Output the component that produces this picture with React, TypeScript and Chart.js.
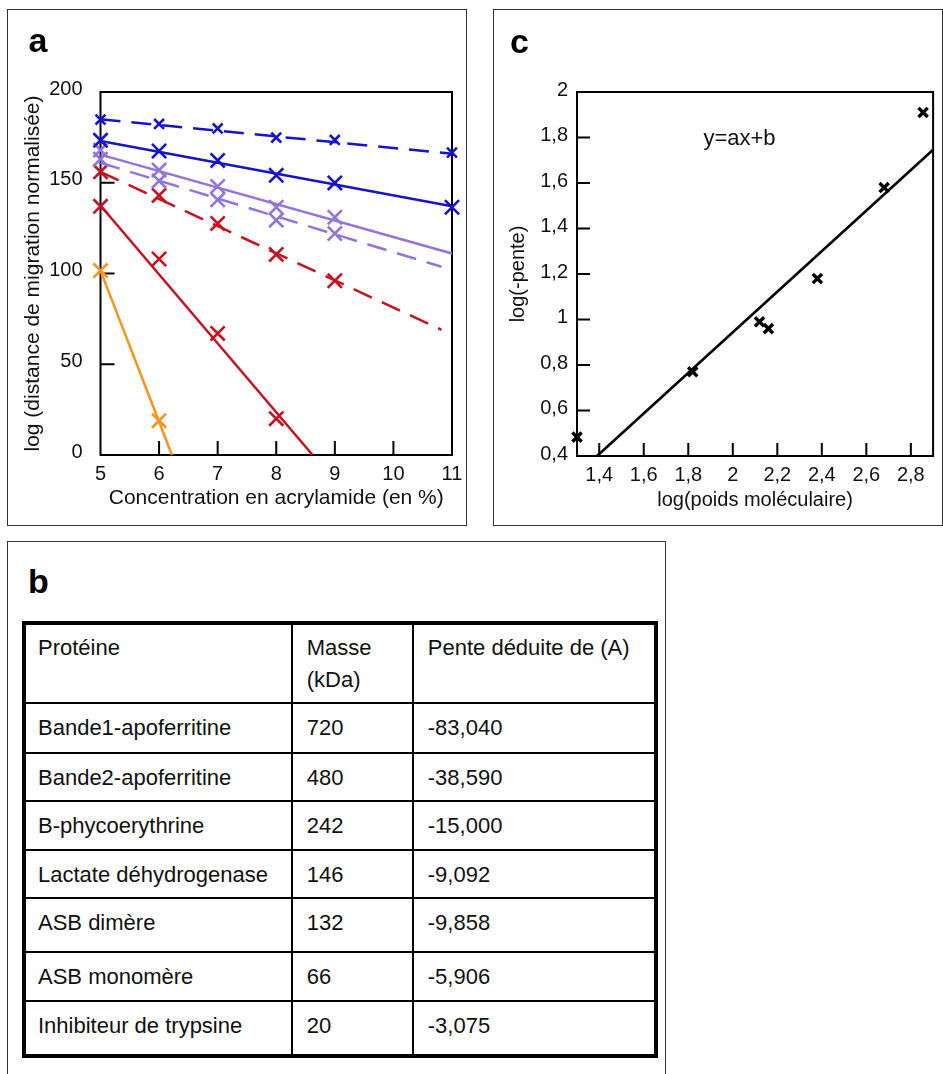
import React, { useEffect, useRef } from "react";
import { Chart, registerables } from "chart.js";

Chart.register(...registerables);

const FONT = '"Liberation Sans", Arial, Helvetica, sans-serif';
const INK = "#111111";
const BLUE = "#1414c8";
const PURPLE = "#9373dc";
const RED = "#c8101e";
const ORANGE = "#f7941e";

// ---------- Panel a : migration vs acrylamide ----------
const acrylamideTicks = [5, 6, 7, 8, 9, 10, 11];
const migrationTicks = [0, 50, 100, 150, 200];
const acrylamideInnerTicks = [6, 7, 8, 9, 10];
const migrationInnerTicks = [50, 100, 150];

const blueDashedX = [5, 6, 7, 8, 9, 11];
const blueDashedY = [184.8, 182.4, 179.9, 174.9, 173.6, 166.6];
const blueDashedFitX = [5, 11];
const blueDashedFitY = [185, 166];

const blueSolidX = [5, 6, 7, 8, 9, 11];
const blueSolidY = [173.4, 167.5, 162.3, 154.1, 149.9, 136.5];
const blueSolidFitX = [5, 11];
const blueSolidFitY = [173, 137];

const purpleSolidX = [5, 6, 7, 8, 9];
const purpleSolidY = [168, 157, 148, 136.5, 131];
const purpleSolidFitX = [5, 11];
const purpleSolidFitY = [165.5, 111];

const purpleDashedX = [5, 6, 7, 8, 9];
const purpleDashedY = [163, 151, 140.6, 129.4, 122];
const purpleDashedFitX = [5, 10.82];
const purpleDashedFitY = [161, 103.7];

const redDashedX = [5, 6, 7, 8, 9];
const redDashedY = [156, 143, 127.6, 110.5, 96];
const redDashedFitX = [5, 10.82];
const redDashedFitY = [156, 69];

const redSolidX = [5, 6, 7, 8];
const redSolidY = [137, 108, 67, 20];
const redSolidFitX = [5, 8.62];
const redSolidFitY = [137.5, 0];

const orangeX = [5, 6];
const orangeY = [101.6, 18.9];
const orangeFitX = [5, 6.22];
const orangeFitY = [101.6, 0];

// ---------- Panel c : log(-pente) vs log(poids moléculaire) ----------
const logMassTicks = [1.4, 1.6, 1.8, 2, 2.2, 2.4, 2.6, 2.8];
const logSlopeTicks = [0.4, 0.6, 0.8, 1, 1.2, 1.4, 1.6, 1.8, 2];
const logSlopeInnerTicks = [0.6, 0.8, 1, 1.2, 1.4, 1.6, 1.8];
const logMass = [1.3, 1.82, 2.12, 2.16, 2.38, 2.68, 2.855];
const logSlope = [0.483, 0.77, 0.99, 0.96, 1.18, 1.58, 1.91];
const fitLineX = [1.39, 2.9];
const fitLineY = [0.4, 1.746];
const equationText = "y=ax+b";
const equationAt = { x: 2.03, y: 1.795 };

// ---------- Panel b : table ----------
const tableHeader = ["Protéine", "Masse\n(kDa)", "Pente déduite de (A)"];
const proteins = [
  "Bande1-apoferritine",
  "Bande2-apoferritine",
  "B-phycoerythrine",
  "Lactate déhydrogenase",
  "ASB dimère",
  "ASB monomère",
  "Inhibiteur de trypsine",
];
const massesKDa = ["720", "480", "242", "146", "132", "66", "20"];
const slopesA = ["-83,040", "-38,590", "-15,000", "-9,092", "-9,858", "-5,906", "-3,075"];

// layout of the table (sizes only)
const tableCols = [266.8, 121, 240.2];
const tableRows = [78.5, 50.5, 48.3, 48.3, 48.2, 53.8, 49.3, 52.1];

const zip = (xs: number[], ys: number[]) => xs.map((x, i) => ({ x, y: ys[i] }));

const frameTicksPlugin = {
  id: "frameTicks",
  beforeDatasetsDraw(chart: any, _args: any, opts: any) {
    const { ctx, chartArea } = chart;
    const { left, right, top, bottom } = chartArea;
    const xs = chart.scales.x;
    const ys = chart.scales.y;
    ctx.save();
    ctx.strokeStyle = "#000";
    ctx.lineWidth = 2;
    ctx.strokeRect(left, top, right - left, bottom - top);
    ctx.beginPath();
    (opts.xTicks || []).forEach((v: number) => {
      const p = xs.getPixelForValue(v);
      ctx.moveTo(p, bottom);
      ctx.lineTo(p, bottom - opts.len);
    });
    (opts.yTicks || []).forEach((v: number) => {
      const p = ys.getPixelForValue(v);
      ctx.moveTo(left, p);
      ctx.lineTo(left + opts.len, p);
    });
    ctx.stroke();
    if (opts.note) {
      ctx.fillStyle = INK;
      ctx.font = `22px ${FONT}`;
      ctx.textAlign = "center";
      ctx.textBaseline = "middle";
      ctx.fillText(opts.note.text, xs.getPixelForValue(opts.note.x), ys.getPixelForValue(opts.note.y));
    }
    ctx.restore();
  },
};

const commaFmt = (v: any) => String(Math.round(Number(v) * 10) / 10).replace(".", ",");

function configA(): any {
  const series = [
    { x: blueDashedX, y: blueDashedY, fx: blueDashedFitX, fy: blueDashedFitY, color: BLUE, dashed: true, r: 7 },
    { x: blueSolidX, y: blueSolidY, fx: blueSolidFitX, fy: blueSolidFitY, color: BLUE, dashed: false, r: 10 },
    { x: purpleSolidX, y: purpleSolidY, fx: purpleSolidFitX, fy: purpleSolidFitY, color: PURPLE, dashed: false, r: 10 },
    { x: purpleDashedX, y: purpleDashedY, fx: purpleDashedFitX, fy: purpleDashedFitY, color: PURPLE, dashed: true, r: 10 },
    { x: redDashedX, y: redDashedY, fx: redDashedFitX, fy: redDashedFitY, color: RED, dashed: true, r: 10 },
    { x: redSolidX, y: redSolidY, fx: redSolidFitX, fy: redSolidFitY, color: RED, dashed: false, r: 10 },
    { x: orangeX, y: orangeY, fx: orangeFitX, fy: orangeFitY, color: ORANGE, dashed: false, r: 10 },
  ];
  const datasets: any[] = [];
  series.forEach((s) => {
    datasets.push({
      data: zip(s.x, s.y),
      showLine: false,
      pointStyle: "crossRot",
      pointRadius: s.r,
      pointHoverRadius: s.r,
      borderWidth: 2.6,
      pointBorderWidth: 2.6,
      borderColor: s.color,
      backgroundColor: s.color,
      clip: false,
      order: 0,
    });
    datasets.push({
      data: zip(s.fx, s.fy),
      showLine: true,
      pointRadius: 0,
      pointHoverRadius: 0,
      borderColor: s.color,
      borderWidth: 2.5,
      borderDash: s.dashed ? [20, 11] : [],
      clip: false,
      order: 1,
    });
  });
  return {
    type: "scatter",
    data: { datasets },
    plugins: [frameTicksPlugin],
    options: {
      animation: false,
      responsive: false,
      events: [],
      layout: { padding: { top: 92, right: 18, bottom: 5, left: 0 } },
      plugins: {
        legend: { display: false },
        tooltip: { enabled: false },
        frameTicks: { xTicks: acrylamideInnerTicks, yTicks: migrationInnerTicks, len: 14 },
      },
      scales: {
        x: {
          type: "linear",
          min: 5,
          max: 11,
          grid: { display: false, drawTicks: false },
          border: { display: false },
          afterBuildTicks: (s: any) => {
            s.ticks = acrylamideTicks.map((v) => ({ value: v }));
          },
          afterFit: (s: any) => {
            s.height = 70;
          },
          ticks: { color: INK, font: { family: FONT, size: 20 }, padding: 7, maxRotation: 0, autoSkip: false },
          title: {
            display: true,
            text: "Concentration en acrylamide (en %)",
            color: INK,
            font: { family: FONT, size: 21 },
            padding: { top: 0, bottom: 14.4 },
          },
        },
        y: {
          type: "linear",
          min: 0,
          max: 200,
          grid: { display: false, drawTicks: false },
          border: { display: false },
          afterBuildTicks: (s: any) => {
            s.ticks = migrationTicks.map((v) => ({ value: v }));
          },
          afterFit: (s: any) => {
            s.width = 100.5;
          },
          ticks: { color: INK, font: { family: FONT, size: 20 }, padding: 18, labelOffset: -3, autoSkip: false },
          title: {
            display: true,
            text: "log (distance de migration normalisée)",
            color: INK,
            font: { family: FONT, size: 21 },
            padding: { top: 20.4, bottom: 0 },
          },
        },
      },
    },
  };
}

function configC(): any {
  return {
    type: "scatter",
    data: {
      datasets: [
        {
          data: zip(logMass, logSlope),
          showLine: false,
          pointStyle: "crossRot",
          pointRadius: 6.5,
          pointHoverRadius: 6.5,
          borderWidth: 3.4,
          pointBorderWidth: 3.4,
          borderColor: "#000",
          backgroundColor: "#000",
          clip: false,
          order: 0,
        },
        {
          data: zip(fitLineX, fitLineY),
          showLine: true,
          pointRadius: 0,
          pointHoverRadius: 0,
          borderColor: "#000",
          borderWidth: 2.6,
          clip: false,
          order: 1,
        },
      ],
    },
    plugins: [frameTicksPlugin],
    options: {
      animation: false,
      responsive: false,
      events: [],
      layout: { padding: { top: 92, right: 7, bottom: 4, left: 0 } },
      plugins: {
        legend: { display: false },
        tooltip: { enabled: false },
        frameTicks: {
          xTicks: logMassTicks,
          yTicks: logSlopeInnerTicks,
          len: 13,
          note: { text: equationText, x: equationAt.x, y: equationAt.y },
        },
      },
      scales: {
        x: {
          type: "linear",
          min: 1.3,
          max: 2.9,
          grid: { display: false, drawTicks: false },
          border: { display: false },
          afterBuildTicks: (s: any) => {
            s.ticks = logMassTicks.map((v) => ({ value: v }));
          },
          afterFit: (s: any) => {
            s.height = 70;
          },
          ticks: { color: INK, font: { family: FONT, size: 20 }, padding: 7, maxRotation: 0, autoSkip: false, callback: commaFmt },
          title: {
            display: true,
            text: "log(poids moléculaire)",
            color: INK,
            font: { family: FONT, size: 20 },
            padding: { top: 0, bottom: 14 },
          },
        },
        y: {
          type: "linear",
          min: 0.4,
          max: 2,
          grid: { display: false, drawTicks: false },
          border: { display: false },
          afterBuildTicks: (s: any) => {
            s.ticks = logSlopeTicks.map((v) => ({ value: v }));
          },
          afterFit: (s: any) => {
            s.width = 92;
          },
          ticks: { color: INK, font: { family: FONT, size: 20 }, padding: 9, labelOffset: -2, autoSkip: false, callback: commaFmt },
          title: {
            display: true,
            text: "log(-pente)",
            color: INK,
            font: { family: FONT, size: 20 },
            padding: { top: 21.5, bottom: 0 },
          },
        },
      },
    },
  };
}

function ChartCanvas({ left, top, width, height, make }: any) {
  const ref = useRef<HTMLCanvasElement | null>(null);
  useEffect(() => {
    const chart = new Chart(ref.current as HTMLCanvasElement, make());
    return () => chart.destroy();
  }, []);
  return (
    <canvas
      ref={ref}
      width={width}
      height={height}
      style={{ position: "absolute", left, top, width, height }}
    />
  );
}

const box = (left: number, top: number, width: number, height: number): React.CSSProperties => ({
  position: "absolute",
  left,
  top,
  width,
  height,
  border: "1.5px solid #333",
  boxSizing: "border-box",
});

function PanelLabel({ text, left, top }: any) {
  return (
    <div
      style={{
        position: "absolute",
        left,
        top,
        fontFamily: FONT,
        fontWeight: "bold",
        fontSize: 34,
        lineHeight: "34px",
        color: "#000",
      }}
    >
      {text}
    </div>
  );
}

function ProteinTable() {
  const rows = [tableHeader, ...proteins.map((p, i) => [p, massesKDa[i], slopesA[i]])];
  return (
    <div
      style={{
        position: "absolute",
        left: 22,
        top: 621,
        width: 636,
        height: 437,
        border: "4px solid #000",
        boxSizing: "border-box",
        display: "grid",
        gridTemplateColumns: tableCols.map((w) => w + "px").join(" "),
        gridTemplateRows: tableRows.map((h) => h + "px").join(" "),
        fontFamily: FONT,
        fontSize: 22,
        lineHeight: "32px",
        color: INK,
      }}
    >
      {rows.map((row, r) =>
        row.map((cell, c) => (
          <div
            key={r + "-" + c}
            style={{
              boxSizing: "border-box",
              borderRight: c < 2 ? "2px solid #000" : "none",
              borderBottom: r < rows.length - 1 ? "2px solid #000" : "none",
              paddingTop: r === 0 ? 7 : 8,
              paddingLeft: c === 0 ? 12 : 14,
              whiteSpace: "pre",
              overflow: "hidden",
            }}
          >
            {cell}
          </div>
        ))
      )}
    </div>
  );
}

export default function App() {
  return (
    <div
      style={{
        position: "absolute",
        left: 0,
        top: 0,
        width: 943,
        height: 1074,
        overflow: "hidden",
        background: "#fff",
      }}
    >
      <div style={box(6.5, 9, 460.5, 517)} />
      <div style={box(493, 8.5, 449.5, 517)} />
      <div style={box(6.5, 541, 659, 560)} />
      <ChartCanvas left={0} top={0} width={470} height={530} make={configA} />
      <ChartCanvas left={485} top={0} width={458} height={530} make={configC} />
      <PanelLabel text="a" left={28.5} top={22.9} />
      <PanelLabel text="c" left={510} top={23.6} />
      <PanelLabel text="b" left={28} top={563.7} />
      <ProteinTable />
    </div>
  );
}
